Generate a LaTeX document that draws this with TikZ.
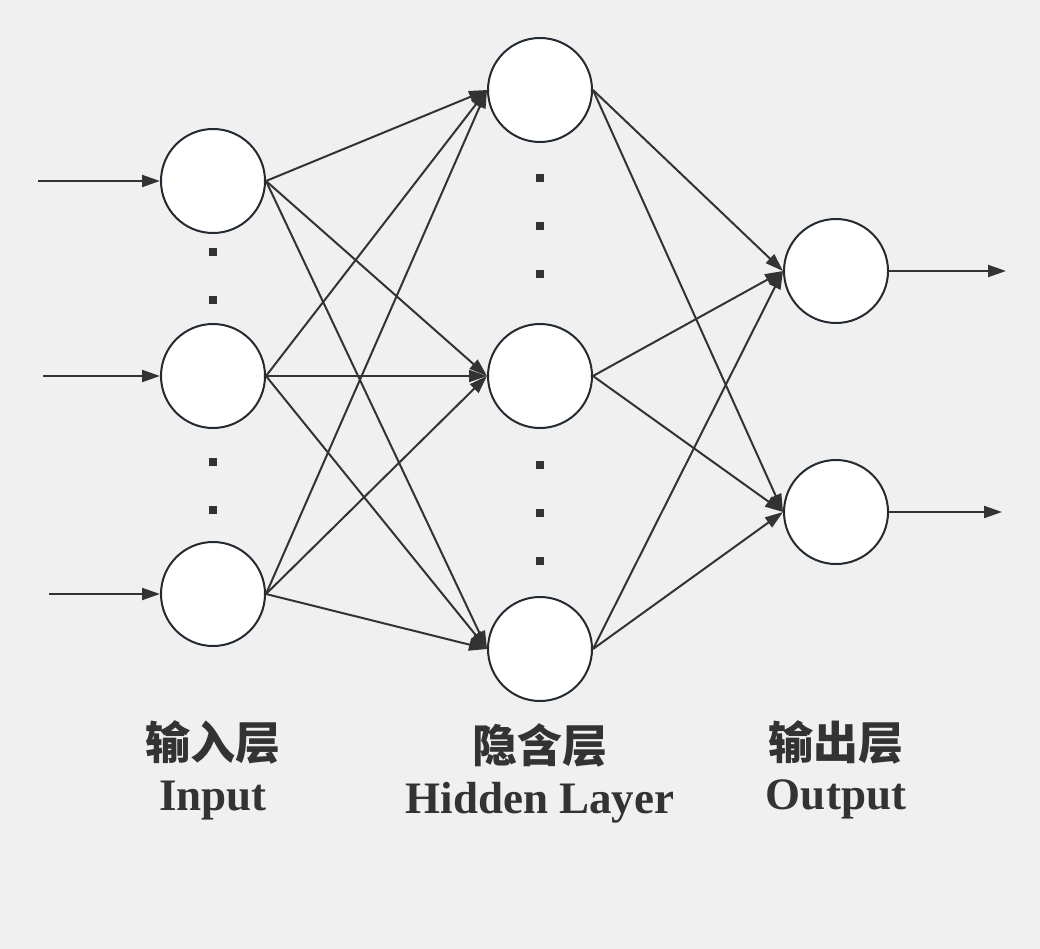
\documentclass[tikz,border=0pt]{standalone}
\usepackage{fontspec}
\setmainfont{Liberation Serif}
\newfontfamily\cjk{Noto Sans CJK SC}
\usetikzlibrary{arrows.meta}
\definecolor{bg}{HTML}{F0F0F0}
\definecolor{ln}{HTML}{333333}
\definecolor{nd}{HTML}{232A31}
\tikzset{
  neuron/.style={circle, draw=nd, fill=white, line width=2pt, minimum size=104pt, inner sep=0pt},
  conn/.style={draw=ln, line width=2pt, -{Triangle[length=18pt,width=12pt]}},
  dotsq/.style={fill=ln, draw=none, minimum size=8pt, inner sep=0pt, rectangle},
  cn/.style={font=\cjk\bfseries\fontsize{45}{50}\selectfont, text=ln, inner sep=0pt},
  en/.style={font=\bfseries\fontsize{45}{50}\selectfont, text=ln, inner sep=0pt},
}
\begin{document}
\begin{tikzpicture}[x=1pt,y=-1pt]
\fill[bg] (0,0) rectangle (1040,949);
\useasboundingbox (0,0) rectangle (1040,949);
% input layer
\node[neuron] (i1) at (213,181) {};
\node[neuron] (i2) at (213,376) {};
\node[neuron] (i3) at (213,594) {};
% hidden layer
\node[neuron] (h1) at (540,90) {};
\node[neuron] (h2) at (540,376) {};
\node[neuron] (h3) at (540,649) {};
% output layer
\node[neuron] (o1) at (836,271) {};
\node[neuron] (o2) at (836,512) {};
% free ends
\coordinate (a1) at (38,181);
\coordinate (a2) at (43,376);
\coordinate (a3) at (49,594);
\coordinate (b1) at (1006,271);
\coordinate (b2) at (1002,512);
% dots
\foreach \y [count=\k] in {252,300,462,510} \node[dotsq] (di\k) at (213,\y) {};
\foreach \y [count=\k] in {178,226,274,465,513,561} \node[dotsq] (dh\k) at (540,\y) {};
% input arrows
\draw[conn] (a1) -- (i1.west);
\draw[conn] (a2) -- (i2.west);
\draw[conn] (a3) -- (i3.west);
% input to hidden
\foreach \i in {i1,i2,i3}
  \foreach \h in {h1,h2,h3}
    \draw[conn] (\i.east) -- (\h.west);
% hidden to output
\foreach \h in {h1,h2,h3}
  \foreach \o in {o1,o2}
    \draw[conn] (\h.east) -- (\o.west);
% output arrows
\draw[conn] (o1.east) -- (b1);
\draw[conn] (o2.east) -- (b2);
% labels
\node[cn] (l1) at (213,742) {输入层};
\node[en] (e1) at (213,801) {Input};
\node[cn] (l2) at (540,745) {隐含层};
\node[en] (e2) at (540,803) {Hidden Layer};
\node[cn] (l3) at (836,742) {输出层};
\node[en] (e3) at (836,799) {Output};
\end{tikzpicture}
\end{document}
